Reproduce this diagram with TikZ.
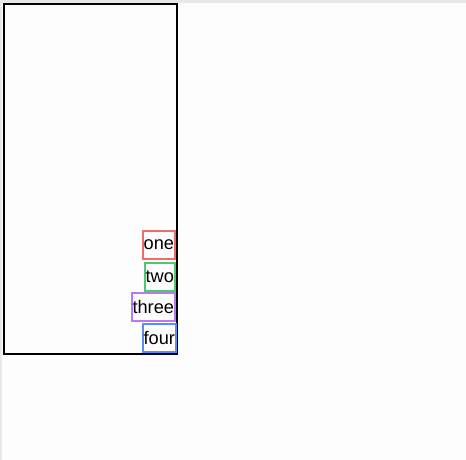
\documentclass[tikz,border=0pt]{standalone}
\usepackage{fontspec}
\setmainfont{Liberation Sans}
\definecolor{bgc}{HTML}{FDFDFD}
\definecolor{stripc}{HTML}{E8E8E8}
\definecolor{cred}{HTML}{F06B6B}
\definecolor{cgreen}{HTML}{4CC96E}
\definecolor{cpurple}{HTML}{B57BF5}
\definecolor{cblue}{HTML}{5B8DEF}
\begin{document}
\begin{tikzpicture}[x=1pt,y=-1pt,
  tag/.style={draw=#1,line width=2pt,anchor=east,minimum height=28pt,inner xsep=1pt,inner ysep=0pt,font=\fontsize{18.2}{20}\selectfont,text=black}]
\useasboundingbox (0,0) rectangle (466,460);
\fill[bgc] (0,0) rectangle (466,460);
\fill[stripc] (0,0) rectangle (466,3);
\fill[stripc] (0,0) rectangle (2,460);
\node[draw=black,line width=2pt,minimum width=173pt,minimum height=350pt,inner sep=0pt] (frame) at (90.5,179) {};
\node[tag=cred] (one) at (176,245) {one};
\node[tag=cgreen] (two) at (176,276.5) {two};
\node[tag=cpurple] (three) at (176,306.5) {three};
\node[tag=cblue] (four) at (177,338) {four};
\end{tikzpicture}
\end{document}
